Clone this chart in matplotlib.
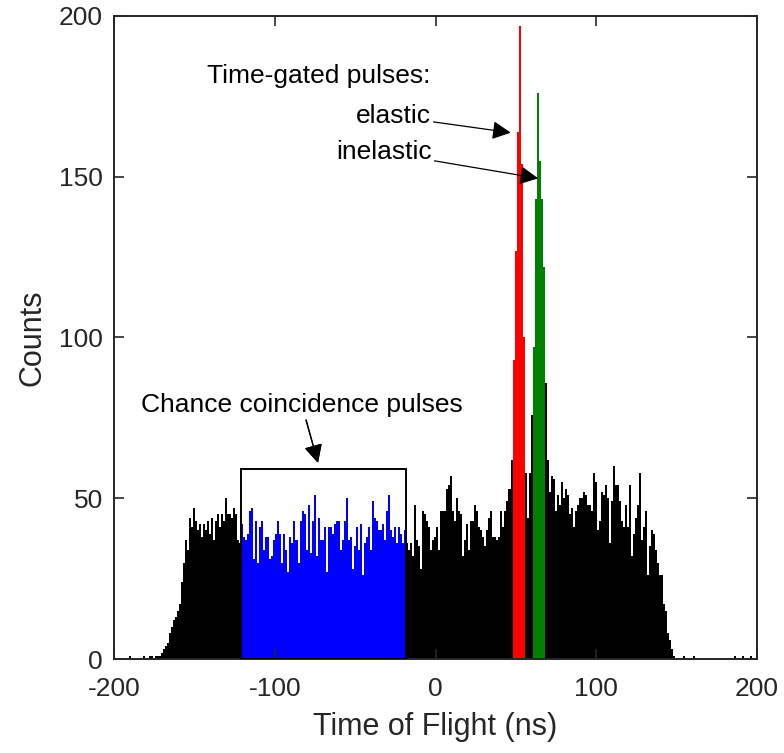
import numpy as np
import matplotlib.pyplot as plt
from matplotlib.patches import Rectangle

plt.rcParams['font.family'] = ['Liberation Sans', 'DejaVu Sans']
plt.rcParams['axes.unicode_minus'] = False

# histogram bins (ns)
t0 = -199.6
bw = 1.25

# counts per bin, split by the colour they are drawn in
left_counts = ([0, 0, 0, 0, 0, 0, 0, 1, 0, 0, 0, 0, 0, 0, 1, 0, 0, 1, 1, 0, 1, 1, 1]
               + [2, 3, 4, 5, 8, 10, 12, 13, 15, 17, 24, 30, 37, 34]
               + [44, 41, 47, 43, 40, 42, 38, 42, 40, 43, 39, 44, 37, 43, 45, 41, 45, 43, 50, 45,
                  45, 44, 47, 45, 37, 36])
chance_counts = [42, 38, 37, 39, 46, 47, 31, 43, 30, 41,
                 43, 34, 38, 38, 31, 32, 37, 39, 43, 39,
                 30, 39, 34, 27, 38, 36, 43, 37, 30, 43,
                 46, 45, 34, 48, 33, 43, 51, 32, 44, 37,
                 37, 41, 27, 41, 41, 39, 42, 43, 43, 34,
                 37, 43, 50, 37, 38, 28, 35, 41, 34, 42,
                 26, 36, 38, 41, 34, 49, 44, 43, 40, 40,
                 42, 37, 46, 51, 40, 38, 41, 36, 41, 39,
                 36, 40]
mid_counts = [36, 34, 36, 32, 48, 37, 35, 28, 46, 45,
              43, 41, 34, 37, 38, 41, 34, 46, 46, 46,
              53, 54, 57, 46, 43, 50, 46, 45, 32, 37,
              42, 34, 43, 43, 48, 46, 41, 40, 38, 35,
              40, 44, 46, 38, 38, 37, 38, 46, 41, 46,
              49, 53, 62]
elastic_counts = [93, 127, 164, 197, 154, 100]
gap_counts = [58, 44, 58, 76]
inelastic_counts = [97, 143, 176, 155, 143, 122]
right_counts = ([86, 62, 52, 57, 56, 46, 51, 48, 55, 50, 53, 51, 45, 47, 41, 46, 48, 50]
                + [50, 52, 51, 48, 48, 46, 58, 55, 40, 43,
                   52, 51, 54, 50, 36, 49, 60, 54, 54, 49,
                   43, 41, 48, 41, 54, 32, 39, 44, 48, 58,
                   37, 41, 46, 26, 35, 40, 39, 34, 30, 26,
                   26, 17, 15, 8, 6, 3, 1]
                + [0, 0, 0, 0, 1, 0, 0, 0, 0, 1, 0, 0, 0, 0, 0, 0, 0, 0, 0, 0,
                   0, 0, 0, 0, 0, 0, 0, 0, 0, 1, 0, 0, 0, 1, 0, 0, 0, 1, 0, 0, 0])
box_top = 59

segments = [(left_counts, 'black'), (chance_counts, '#0000ff'), (mid_counts, 'black'),
            (elastic_counts, '#ff0000'), (gap_counts, 'black'),
            (inelastic_counts, '#008000'), (right_counts, 'black')]

fig = plt.figure(figsize=(7.84, 7.53), dpi=100)
ax = fig.add_axes([0.1454, 0.1248, 0.8202, 0.854])

k = 0
chance_span = None
for counts, col in segments:
    n = len(counts)
    edges = t0 + bw * np.arange(k, k + n)
    ax.bar(edges, counts, width=bw, align='edge', color=col, linewidth=0)
    if counts is chance_counts:
        chance_span = (edges[0], edges[-1] + bw)
    k += n

# box around the chance coincidences
ax.add_patch(Rectangle((chance_span[0], 0), chance_span[1] - chance_span[0], box_top,
                       fill=False, ec='black', lw=1.4, zorder=3))

arr = dict(arrowstyle='-|>', color='black', lw=0.9, mutation_scale=28,
           shrinkA=0, shrinkB=0)
ax.text(-3.0, 181.3, 'Time-gated pulses:', fontsize=19, ha='right', va='center')
ax.annotate('elastic', xy=(46.8, 163.7), xytext=(-3.0, 168.8), fontsize=19,
            ha='right', va='center', arrowprops=arr)
ax.annotate('inelastic', xy=(63.9, 149.5), xytext=(-2.4, 157.6), fontsize=19,
            ha='right', va='center', arrowprops=arr)
ax.annotate('Chance coincidence pulses', xy=(-73.1, 61), xytext=(-83, 79), fontsize=19,
            ha='center', va='center', arrowprops=arr)
ax.annotate('', xy=(-73.1, 61), xytext=(-80.6, 74.3), arrowprops=arr)

ax.set_xlim(-200, 200)
ax.set_ylim(0, 200)
ax.set_xticks([-200, -100, 0, 100, 200])
ax.set_yticks([0, 50, 100, 150, 200])
ax.set_xlabel('Time of Flight (ns)', fontsize=22, color='#262626', labelpad=8)
ax.set_ylabel('Counts', fontsize=22, color='#262626', labelpad=8)
ax.tick_params(direction='in', length=7, width=1.2, top=True, right=True,
               labelsize=19, labelcolor='#262626', color='#262626', pad=8)
ax.tick_params(axis='x', pad=13)
for s in ax.spines.values():
    s.set_color('#262626')
    s.set_linewidth(1.4)

fig.savefig('out.png', dpi=100)
